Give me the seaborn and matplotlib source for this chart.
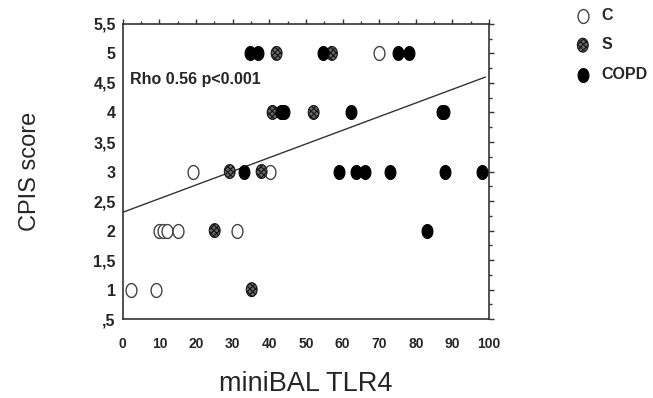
import numpy as np
import pandas as pd
import matplotlib
matplotlib.use("Agg")
import matplotlib.pyplot as plt
from matplotlib.path import Path
from matplotlib.ticker import MultipleLocator, FuncFormatter
import seaborn as sns

# ---- data ----
c_x = [70, 19.2, 40.2, 9.9, 11.0, 12.1, 15.1, 31.1, 2.2, 9.2]
c_y = [5, 3, 3, 2, 2, 2, 2, 2, 1, 1]
s_x = [42.0, 57.1, 40.9, 52.1, 29.2, 37.9, 25.1, 35.2]
s_y = [5, 5, 4, 4, 3, 3, 2, 1]
copd_x = [34.6, 36.9, 54.7, 75.0, 78.2, 43.2, 44.0, 62.2, 87.2, 87.8,
          33.1, 58.9, 63.7, 66.1, 73.0, 88.0, 98.0, 83.0]
copd_y = [5, 5, 5, 5, 5, 4, 4, 4, 4, 4, 3, 3, 3, 3, 3, 3, 3, 2]
line_x = [0, 99]
line_y = [2.31, 4.6]
groups = ["C", "S", "COPD"]
annot = "Rho 0.56 p<0.001"

df = pd.DataFrame({
    "x": c_x + s_x + copd_x,
    "y": c_y + s_y + copd_y,
    "g": ["C"] * len(c_x) + ["S"] * len(s_x) + ["COPD"] * len(copd_x),
})
line_df = pd.DataFrame({"x": line_x, "y": line_y})

sns.set_style("white")
plt.rcParams["font.family"] = ["Liberation Sans", "DejaVu Sans"]
plt.rcParams["hatch.linewidth"] = 0.9

fig = plt.figure(figsize=(6.53, 3.98), dpi=100)
ax = fig.add_axes([0.188, 0.198, 0.561, 0.742])

# ellipse marker (taller than wide)
t = np.linspace(0, 2 * np.pi, 60)
ell = Path(np.column_stack([0.78 * np.cos(t), np.sin(t)]), closed=True)

sns.lineplot(data=line_df, x="x", y="y", ax=ax, color="#333333", lw=1.0)

styles = {
    "C": dict(facecolor="white", edgecolor="#444444", linewidth=1.0),
    "S": dict(facecolor="#6a6a6a", edgecolor="#1a1a1a", linewidth=0.8, hatch="xxxxxx"),
    "COPD": dict(facecolor="black", edgecolor="black", linewidth=0.8),
}
handles = []
for g in groups:
    sub = df[df["g"] == g]
    sns.scatterplot(data=sub, x="x", y="y", ax=ax, marker=ell, s=100,
                    legend=False, zorder=3, **styles[g])
    handles.append(ax.collections[-1])

ax.text(2.1, 4.49, annot, fontsize=11.5, fontweight="bold", ha="left",
        va="baseline")

ax.set_xlim(0, 100)
ax.set_ylim(0.5, 5.5)
ax.xaxis.set_major_locator(MultipleLocator(10))
ax.xaxis.set_minor_locator(MultipleLocator(5))
ax.yaxis.set_major_locator(MultipleLocator(0.5))
ax.yaxis.set_minor_locator(MultipleLocator(0.25))


def yfmt(v, pos):
    s = ("%g" % v).replace(".", ",")
    if s.startswith("0,"):
        s = s[1:]
    return s


ax.yaxis.set_major_formatter(FuncFormatter(yfmt))
ax.tick_params(which="both", direction="out", top=True, right=True,
               labeltop=False, labelright=False, color="#333333", width=1.0)
ax.tick_params(which="major", length=3.5)
ax.tick_params(which="minor", length=2)
ax.tick_params(axis="x", which="major", labelsize=10, pad=9)
ax.tick_params(axis="y", which="major", labelsize=11.5, pad=1.5)
for lab in ax.get_xticklabels() + ax.get_yticklabels():
    lab.set_fontweight("bold")
for sp in ax.spines.values():
    sp.set_visible(True)
    sp.set_color("#333333")
    sp.set_linewidth(1.2)

ax.set_xlabel("miniBAL TLR4", fontsize=19.5)
ax.set_ylabel("CPIS score", fontsize=17)
ax.xaxis.set_label_coords(0.5, -0.175)
ax.yaxis.set_label_coords(-0.222, 0.5)

leg = ax.legend(handles, groups, loc="upper left",
                bbox_to_anchor=(0.868, 1.0), bbox_transform=fig.transFigure,
                frameon=False, borderpad=0, handlelength=1.0,
                handletextpad=0.69, labelspacing=0.9,
                prop=dict(size=11.5, weight="bold"))

fig.savefig("out.png", dpi=100)
